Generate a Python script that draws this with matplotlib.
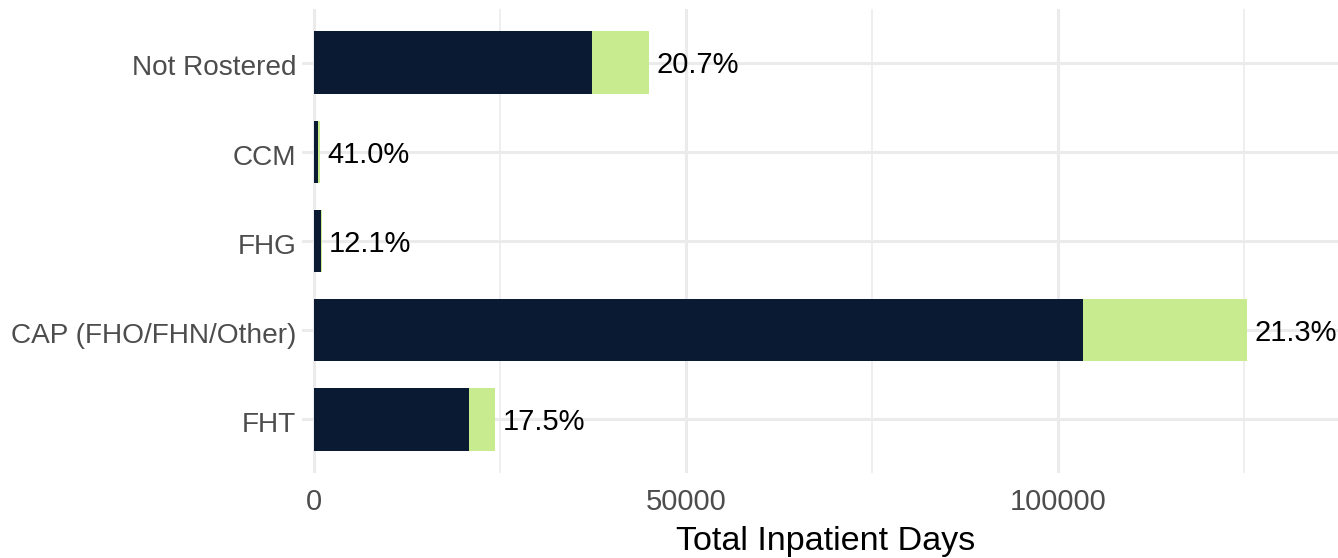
import matplotlib.pyplot as plt
from matplotlib.ticker import MultipleLocator
from matplotlib.transforms import ScaledTranslation

plt.rcParams["font.family"] = ["Liberation Sans", "DejaVu Sans"]

# categories listed bottom to top
groups = ["FHT", "CAP (FHO/FHN/Other)", "FHG", "CCM", "Not Rostered"]
days_main = [20830, 103360, 900, 500, 37370]
days_extra = [3500, 22000, 130, 330, 7660]
pct_labels = ["17.5%", "21.3%", "12.1%", "41.0%", "20.7%"]

navy = "#0a1a33"
green = "#c9eb8f"
grid_col = "#ebebeb"

fig = plt.figure(figsize=(13.38, 5.58), dpi=100)
ax = fig.add_axes([302 / 1338, 1 - 473 / 558, 1 - 302 / 1338, (473 - 9) / 558])

ypos = list(range(len(groups)))
ax.barh(ypos, days_main, height=0.7, color=navy, zorder=3)
ax.barh(ypos, days_extra, left=days_main, height=0.7, color=green, zorder=3)

for y, a, b, lab in zip(ypos, days_main, days_extra, pct_labels):
    ax.annotate(lab, xy=(a + b, y), xytext=(5.5, -2), textcoords="offset points",
                ha="left", va="center", fontsize=21, color="black", zorder=4)

ax.set_xlim(-1600, 137600)
ax.set_ylim(-0.6, len(groups) - 0.4)
ax.xaxis.set_major_locator(MultipleLocator(50000))
ax.xaxis.set_minor_locator(MultipleLocator(25000))
ax.set_yticks(ypos)
ax.set_yticklabels(groups)

ax.grid(which="major", axis="both", color=grid_col, linewidth=2.2, zorder=0)
ax.grid(which="minor", axis="x", color=grid_col, linewidth=1.1, zorder=0)
for s in ax.spines.values():
    s.set_visible(False)
ax.tick_params(axis="both", which="both", length=0, labelcolor="#4d4d4d")
ax.tick_params(axis="x", labelsize=21, pad=11)
ax.tick_params(axis="y", labelsize=20.2, pad=4)
shift = ScaledTranslation(0, -2 / 72, fig.dpi_scale_trans)
for t in ax.get_yticklabels():
    t.set_transform(t.get_transform() + shift)
ax.set_xlabel("Total Inpatient Days", fontsize=24.6, color="black")
ax.xaxis.set_label_coords(0.505, -0.115)

fig.savefig("out.png", dpi=100)
